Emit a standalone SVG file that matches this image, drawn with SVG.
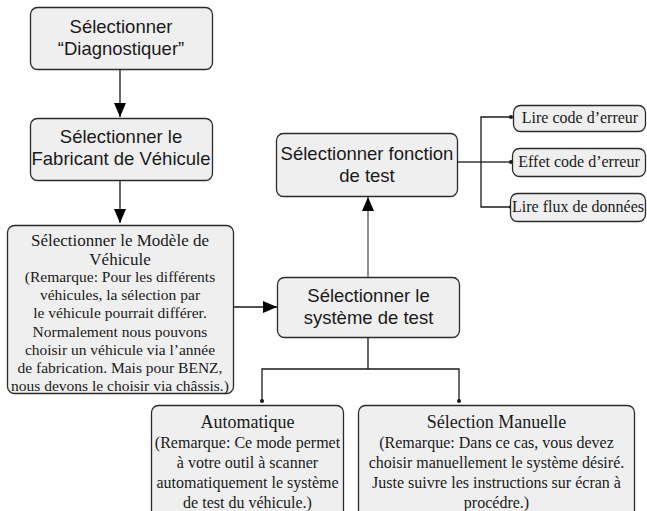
<svg xmlns="http://www.w3.org/2000/svg" width="647" height="511" viewBox="0 0 647 511">
<style>
.box{fill:#efefef;stroke:#2b2b2b;stroke-width:1.3}
.sans{font-family:"Liberation Sans",Arial,sans-serif;font-size:18.5px;fill:#1a1a1a;text-anchor:middle}
.serif{font-family:"Liberation Serif","Times New Roman",serif;fill:#1a1a1a;text-anchor:middle}
.t18{font-size:18px}
.t17{font-size:17px}
.t16{font-size:16px}
.t155{font-size:15.5px}
.ln{fill:none;stroke:#1a1a1a;stroke-width:1.3}
.gl{fill:none;stroke:#555;stroke-width:1.3}
.dot{fill:#1a1a1a}
</style>
<defs>
<marker id="arr" markerWidth="14" markerHeight="12" refX="14" refY="6" orient="auto" markerUnits="userSpaceOnUse">
<path d="M0,0 L14,6 L0,12 Z" fill="#000"/>
</marker>
</defs>
<g id="connectors">
<line class="ln" x1="120" y1="69" x2="120" y2="117" marker-end="url(#arr)"/>
<line class="ln" x1="120" y1="180" x2="120" y2="223" marker-end="url(#arr)"/>
<line class="ln" x1="233" y1="307" x2="277" y2="307" marker-end="url(#arr)"/>
<line class="gl" x1="368" y1="277" x2="368" y2="197" marker-end="url(#arr)"/>
<polyline class="ln" points="457,162 481,162"/>
<polyline class="ln" points="511,117 481,117 481,207 511,207"/>
<line class="ln" x1="481" y1="162" x2="511" y2="162"/>
<circle class="dot" cx="511" cy="117" r="2"/>
<circle class="dot" cx="511" cy="162" r="2"/>
<circle class="dot" cx="511" cy="207" r="2"/>
<line class="ln" x1="368" y1="337" x2="368" y2="369"/>
<polyline class="ln" points="262,401 262,369 459,369 459,401"/>
<circle class="dot" cx="262" cy="401" r="2"/>
<circle class="dot" cx="459" cy="401" r="2"/>
</g>
<g id="n1">
<rect class="box" x="30.5" y="7.5" width="182" height="62" rx="7"/>
<text class="sans" x="121" y="33">Sélectionner</text>
<text class="sans" x="121" y="55">“Diagnostiquer”</text>
</g>
<g id="n2">
<rect class="box" x="30.5" y="118.5" width="182" height="62" rx="7"/>
<text class="sans" x="121" y="143">Sélectionner le</text>
<text class="sans" x="121" y="165">Fabricant de Véhicule</text>
</g>
<g id="n3">
<rect class="box" x="7.5" y="225.5" width="226" height="168" rx="7"/>
<text class="serif t17" x="120" y="246">Sélectionner le Modèle de</text>
<text class="serif t17" x="120" y="265">Véhicule</text>
<text class="serif t155" x="120" y="282">(Remarque: Pour les différents</text>
<text class="serif t155" x="120" y="300">véhicules, la sélection par</text>
<text class="serif t155" x="120" y="318">le véhicule pourrait différer.</text>
<text class="serif t155" x="120" y="337">Normalement nous pouvons</text>
<text class="serif t155" x="120" y="355">choisir un véhicule via l’année</text>
<text class="serif t155" x="120" y="373">de fabrication. Mais pour BENZ,</text>
<text class="serif t155" x="120" y="391">nous devons le choisir via châssis.)</text>
</g>
<g id="n4">
<rect class="box" x="277.5" y="277.5" width="182" height="60" rx="7"/>
<text class="sans" x="368.5" y="302">Sélectionner le</text>
<text class="sans" x="368.5" y="324">système de test</text>
</g>
<g id="n5">
<rect class="box" x="276.5" y="133.5" width="181" height="63" rx="7"/>
<text class="sans" x="367" y="160">Sélectionner fonction</text>
<text class="sans" x="367" y="182">de test</text>
</g>
<g id="n6">
<rect class="box" x="513.5" y="105.5" width="132" height="26" rx="7"/>
<text class="serif t16" x="580" y="123">Lire code d’erreur</text>
</g>
<g id="n7">
<rect class="box" x="512.5" y="148.5" width="133" height="28" rx="7"/>
<text class="serif t16" x="579" y="167">Effet code d’erreur</text>
</g>
<g id="n8">
<rect class="box" x="510.5" y="193.5" width="135" height="28" rx="7"/>
<text class="serif t16" x="578" y="212">Lire flux de données</text>
</g>
<g id="n9">
<rect class="box" x="151.5" y="405.5" width="192" height="115" rx="7"/>
<text class="serif t18" x="247.5" y="428">Automatique</text>
<text class="serif t16" x="247.5" y="448">(Remarque: Ce mode permet</text>
<text class="serif t16" x="247.5" y="468">à votre outil à scanner</text>
<text class="serif t16" x="247.5" y="488">automatiquement le système</text>
<text class="serif t16" x="247.5" y="508">de test du véhicule.)</text>
</g>
<g id="n10">
<rect class="box" x="358.5" y="405.5" width="276" height="115" rx="7"/>
<text class="serif t18" x="496.5" y="428">Sélection Manuelle</text>
<text class="serif t16" x="496.5" y="448">(Remarque: Dans ce cas, vous devez</text>
<text class="serif t16" x="496.5" y="468">choisir manuellement le système désiré.</text>
<text class="serif t16" x="496.5" y="488">Juste suivre les instructions sur écran à</text>
<text class="serif t16" x="496.5" y="508">procédre.)</text>
</g>
</svg>
